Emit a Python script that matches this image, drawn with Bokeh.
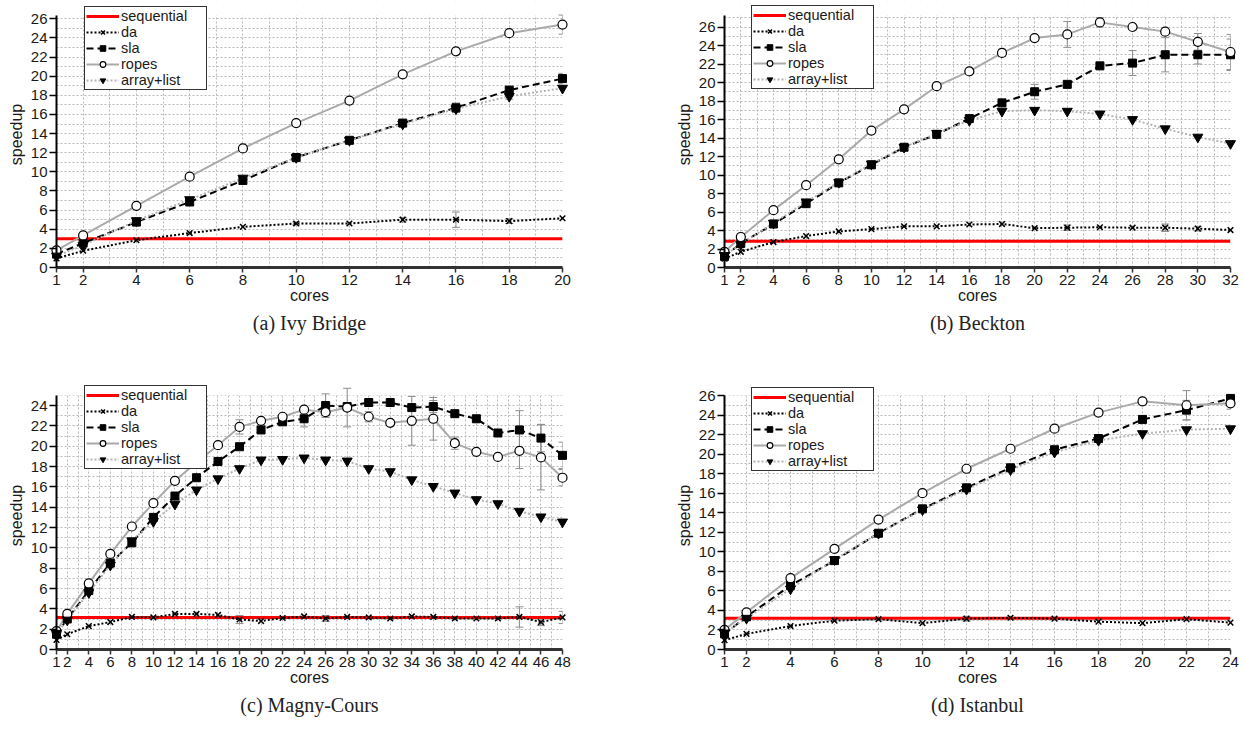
from bokeh.plotting import figure
from bokeh.layouts import column, row
from bokeh.models import (Range1d, FixedTicker, Legend, LegendItem, Whisker,
                          ColumnDataSource, TeeHead, BoxAnnotation)
from bokeh.embed import file_html
from bokeh.resources import INLINE

# ---------------- data ----------------
LABELS = ["sequential", "da", "sla", "ropes", "array+list"]
CAPTIONS = ["(a) Ivy Bridge", "(b) Beckton", "(c) Magny-Cours", "(d) Istanbul"]

# (a) Ivy Bridge
CORES_A = [1, 2, 4, 6, 8, 10, 12, 14, 16, 18, 20]
XTICKS_A = [1, 2, 4, 6, 8, 10, 12, 14, 16, 18, 20]
SEQ_A = 3.0
DA_A = [0.95, 1.75, 2.85, 3.6, 4.25, 4.6, 4.6, 5.0, 5.0, 4.85, 5.15]
SLA_A = [1.4, 2.55, 4.75, 6.85, 9.1, 11.5, 13.3, 15.1, 16.7, 18.55, 19.75]
ROPES_A = [1.8, 3.35, 6.45, 9.5, 12.45, 15.1, 17.45, 20.2, 22.6, 24.5, 25.4]
AL_A = [1.2, 2.3, 4.9, 7.1, 9.35, 11.5, 13.3, 15.0, 16.6, 17.9, 18.75]
DA_A_ERR = [0, 0, 0, 0, 0, 0.15, 0, 0.25, 0.8, 0.25, 0]
SLA_A_ERR = [0, 0, 0, 0, 0, 0, 0, 0, 0.5, 0, 0.55]
ROPES_A_ERR = [0, 0, 0, 0, 0, 0, 0, 0, 0, 0, 1.0]
AL_A_ERR = [0, 0, 0, 0, 0, 0, 0, 0, 0.3, 0.3, 0]

# (b) Beckton
CORES_B = [1, 2, 4, 6, 8, 10, 12, 14, 16, 18, 20, 22, 24, 26, 28, 30, 32]
XTICKS_B = [1, 2, 4, 6, 8, 10, 12, 14, 16, 18, 20, 22, 24, 26, 28, 30, 32]
SEQ_B = 2.85
DA_B = [0.95, 1.7, 2.75, 3.4, 3.9, 4.15, 4.45, 4.45, 4.65, 4.7, 4.25, 4.3, 4.35, 4.3, 4.3, 4.2, 4.05]
SLA_B = [1.2, 2.6, 4.7, 6.9, 9.15, 11.1, 13.0, 14.4, 16.1, 17.8, 19.0, 19.8, 21.8, 22.1, 23.0, 23.0, 23.0]
ROPES_B = [1.7, 3.3, 6.2, 8.9, 11.7, 14.8, 17.1, 19.6, 21.2, 23.2, 24.8, 25.2, 26.5, 26.0, 25.5, 24.4, 23.3]
AL_B = [1.3, 2.5, 4.8, 7.1, 9.2, 11.2, 13.0, 14.5, 15.9, 16.9, 17.0, 16.9, 16.6, 16.0, 15.0, 14.1, 13.4]
DA_B_ERR = [0, 0, 0, 0, 0, 0, 0, 0, 0, 0, 0, 0.3, 0, 0, 0.4, 0.25, 0]
SLA_B_ERR = [0, 0, 0, 0, 0, 0, 0, 0, 0, 0.3, 0.8, 0, 0, 1.35, 1.85, 1.0, 1.7]
ROPES_B_ERR = [0, 0, 0, 0, 0, 0, 0, 0, 0, 0.4, 0, 1.4, 0.5, 0, 0, 0.9, 1.9]
AL_B_ERR = [0] * 17

# (c) Magny-Cours
CORES_C = [1, 2, 4, 6, 8, 10, 12, 14, 16, 18, 20, 22, 24, 26, 28, 30, 32, 34, 36, 38, 40, 42, 44, 46, 48]
XTICKS_C = [1, 2, 4, 6, 8, 10, 12, 14, 16, 18, 20, 22, 24, 26, 28, 30, 32, 34, 36, 38, 40, 42, 44, 46, 48]
SEQ_C = 3.15
DA_C = [0.95, 1.5, 2.3, 2.7, 3.2, 3.15, 3.5, 3.5, 3.4, 2.95, 2.8, 3.1, 3.25, 3.05, 3.2, 3.15, 3.05,
        3.25, 3.2, 3.05, 3.05, 3.05, 3.2, 2.7, 3.15]
SLA_C = [1.5, 3.0, 5.8, 8.5, 10.5, 13.0, 15.1, 16.9, 18.5, 19.95, 21.6, 22.4, 22.7, 24.0, 23.9, 24.3,
         24.3, 23.8, 23.9, 23.2, 22.7, 21.3, 21.6, 20.8, 19.1]
ROPES_C = [1.8, 3.5, 6.5, 9.4, 12.1, 14.4, 16.6, 18.4, 20.1, 21.9, 22.5, 22.9, 23.6, 23.35, 23.8, 22.9,
           22.3, 22.5, 22.7, 20.3, 19.45, 18.95, 19.55, 18.9, 16.9]
AL_C = [1.6, 2.9, 5.6, 8.3, 10.7, 12.6, 14.3, 15.7, 16.8, 17.8, 18.65, 18.7, 18.85, 18.65, 18.55, 17.8,
        17.5, 16.7, 16.05, 15.4, 14.75, 14.35, 13.6, 13.05, 12.55]
DA_C_ERR = [0, 0, 0, 0, 0, 0, 0, 0, 0, 0.4, 0, 0, 0, 0.3, 0, 0, 0, 0, 0, 0, 0, 0, 1.0, 0.35, 0.6]
SLA_C_ERR = [0, 0, 0, 0, 0, 0, 0, 0, 0, 0, 0, 0, 0.8, 1.15, 0, 0, 0, 0, 0.6, 0.3, 0.3, 0, 1.9, 1.35, 1.3]
ROPES_C_ERR = [0, 0, 0, 0, 0, 0, 0, 0, 0, 0.7, 0, 0, 0, 0.5, 1.9, 0.5, 0, 2.4, 2.1, 0.6, 0, 0, 1.75, 3.2, 0.8]
AL_C_ERR = [0] * 25

# (d) Istanbul
CORES_D = [1, 2, 4, 6, 8, 10, 12, 14, 16, 18, 20, 22, 24]
XTICKS_D = [1, 2, 4, 6, 8, 10, 12, 14, 16, 18, 20, 22, 24]
SEQ_D = 3.2
DA_D = [0.95, 1.6, 2.4, 2.95, 3.1, 2.7, 3.15, 3.25, 3.15, 2.85, 2.7, 3.1, 2.75]
SLA_D = [1.6, 3.35, 6.55, 9.1, 11.9, 14.4, 16.55, 18.6, 20.45, 21.6, 23.55, 24.5, 25.7]
ROPES_D = [2.0, 3.8, 7.3, 10.3, 13.3, 16.0, 18.5, 20.55, 22.6, 24.25, 25.4, 25.0, 25.2]
AL_D = [1.7, 3.2, 6.2, 9.2, 11.9, 14.3, 16.4, 18.4, 20.2, 21.4, 22.1, 22.5, 22.6]
DA_D_ERR = [0, 0, 0, 0, 0, 0, 0.25, 0, 0, 0, 0, 0, 0]
SLA_D_ERR = [0, 0, 0, 0, 0, 0, 0, 0, 0, 0, 0, 1.0, 0.3]
ROPES_D_ERR = [0, 0, 0, 0, 0, 0, 0, 0, 0, 0.3, 0.3, 1.5, 0.6]
AL_D_ERR = [0] * 13

FONT = "Liberation Sans"
ERR_COLOR = "#8c8c8c"
PAD = 14  # px of hidden frame above the visible plot area (room for the legend)


def whiskers(p, xs, ys, errs):
    bx, lo, hi = [], [], []
    for x, y, e in zip(xs, ys, errs):
        if e > 0:
            bx.append(x)
            lo.append(y - e)
            hi.append(y + e)
    if not bx:
        return
    src = ColumnDataSource(dict(x=bx, lo=lo, hi=hi))
    w = Whisker(source=src, base="x", lower="lo", upper="hi", line_color=ERR_COLOR, line_width=1,
                upper_head=TeeHead(size=8, line_color=ERR_COLOR, line_width=1),
                lower_head=TeeHead(size=8, line_color=ERR_COLOR, line_width=1))
    p.add_layout(w)


def make_panel(cores, xticks, seq, da, sla, ropes, al, errs, caption, ymax, ytick_max,
               width, height, bl, br, vis_top, vis_h, leg_xy):
    frame_h = vis_h + PAD
    bt = vis_top - PAD
    bb = height - bt - frame_h
    y_end = ymax * frame_h / vis_h
    p = figure(width=width, height=height, min_border_left=bl, min_border_right=br,
               min_border_top=bt, min_border_bottom=bb,
               x_range=Range1d(cores[0], cores[-1]), y_range=Range1d(0, y_end),
               output_backend="svg", toolbar_location=None,
               title=caption, title_location="below")
    p.outline_line_color = None
    p.background_fill_color = "white"
    p.border_fill_color = "white"

    # grids
    p.xgrid.ticker = FixedTicker(ticks=list(range(cores[0], cores[-1] + 1)))
    p.ygrid.ticker = FixedTicker(ticks=list(range(0, int(ymax) + 1)))
    for g in (p.xgrid, p.ygrid):
        g.grid_line_color = "#b8b8b8"
        g.grid_line_dash = "2 2"
        g.grid_line_width = 1
    # white band hiding the spare frame strip above the plotted range
    p.add_layout(BoxAnnotation(bottom=ymax, fill_color="white", fill_alpha=1,
                               line_color=None, level="underlay"))

    # axes
    p.xaxis.ticker = FixedTicker(ticks=xticks)
    p.yaxis.ticker = FixedTicker(ticks=list(range(0, ytick_max + 1, 2)))
    p.yaxis.bounds = (0, ymax)
    p.xaxis.axis_label = "cores"
    p.yaxis.axis_label = "speedup"
    for ax in (p.xaxis, p.yaxis):
        ax.major_label_text_font = FONT
        ax.major_label_text_font_size = "15px"
        ax.major_label_text_color = "#1a1a1a"
        ax.axis_label_text_font = FONT
        ax.axis_label_text_font_size = "16px"
        ax.axis_label_text_font_style = "normal"
        ax.axis_label_text_color = "#1a1a1a"
        ax.minor_tick_line_color = None
        ax.major_tick_in = 0
    p.xaxis.major_tick_out = 5
    p.xaxis.major_tick_line_color = "#333333"
    p.xaxis.major_tick_line_width = 1.5
    p.xaxis.axis_line_color = "#333333"
    p.xaxis.axis_line_width = 3
    p.xaxis.major_label_standoff = 2
    p.xaxis.axis_label_standoff = -1
    p.yaxis.major_tick_out = 7
    p.yaxis.major_tick_line_color = "black"
    p.yaxis.major_tick_line_width = 1.5
    p.yaxis.axis_line_color = "black"
    p.yaxis.axis_line_width = 2
    p.yaxis.major_label_standoff = 2
    p.yaxis.axis_label_standoff = 3

    # caption
    p.title.align = "center"
    p.title.text_font = "Liberation Serif"
    p.title.text_font_size = "20px"
    p.title.text_font_style = "normal"
    p.title.text_color = "#222222"
    p.title.standoff = 6

    # sequential
    r_seq = p.line([cores[0], cores[-1]], [seq, seq], line_color="#ff0000", line_width=3)

    # error bars
    whiskers(p, cores, da, errs[0])
    whiskers(p, cores, sla, errs[1])
    whiskers(p, cores, ropes, errs[2])
    whiskers(p, cores, al, errs[3])

    # da
    l_da = p.line(cores, da, line_color="black", line_width=2, line_dash="2 2")
    m_da = p.scatter(cores, da, marker="x", size=8, line_color="black", line_width=1.5,
                     level="guide")
    # sla
    l_sla = p.line(cores, sla, line_color="black", line_width=2, line_dash="7 4")
    m_sla = p.scatter(cores, sla, marker="square", size=8, fill_color="black", line_color="black",
                      level="guide")
    # ropes
    l_ro = p.line(cores, ropes, line_color="#aaaaaa", line_width=2)
    m_ro = p.scatter(cores, ropes, marker="circle", size=9, fill_color="white",
                     line_color="black", line_width=1.2, level="guide")
    # array+list
    l_al = p.line(cores, al, line_color="#b4b4b4", line_width=2, line_dash="2 2")
    m_al = p.scatter(cores, al, marker="inverted_triangle", size=10, fill_color="black",
                     line_color="black", level="guide")

    items = [LegendItem(label=LABELS[0], renderers=[r_seq]),
             LegendItem(label=LABELS[1], renderers=[l_da, m_da]),
             LegendItem(label=LABELS[2], renderers=[l_sla, m_sla]),
             LegendItem(label=LABELS[3], renderers=[l_ro, m_ro]),
             LegendItem(label=LABELS[4], renderers=[l_al, m_al])]
    leg = Legend(items=items, location=leg_xy, orientation="vertical",
                 border_line_color="#333333", border_line_width=1.5, border_line_alpha=1,
                 background_fill_color="white", background_fill_alpha=1,
                 label_text_font=FONT, label_text_font_size="14.5px",
                 label_text_color="#1a1a1a", label_standoff=2,
                 glyph_width=33, glyph_height=14, label_height=14, label_width=84,
                 spacing=-1, padding=1, margin=0)
    p.add_layout(leg)
    return p


pa = make_panel(CORES_A, XTICKS_A, SEQ_A, DA_A, SLA_A, ROPES_A, AL_A,
                [DA_A_ERR, SLA_A_ERR, ROPES_A_ERR, AL_A_ERR], CAPTIONS[0], 26.35, 26,
                630, 380, 56, 68, 15, 252, (28, 177))
pb = make_panel(CORES_B, XTICKS_B, SEQ_B, DA_B, SLA_B, ROPES_B, AL_B,
                [DA_B_ERR, SLA_B_ERR, ROPES_B_ERR, AL_B_ERR], CAPTIONS[1], 27.25, 26,
                612, 380, 94, 12, 15, 253, (27, 178))
pc = make_panel(CORES_C, XTICKS_C, SEQ_C, DA_C, SLA_C, ROPES_C, AL_C,
                [DA_C_ERR, SLA_C_ERR, ROPES_C_ERR, AL_C_ERR], CAPTIONS[2], 25, 24,
                630, 352, 56, 68, 15, 256, (28, 180))
pd = make_panel(CORES_D, XTICKS_D, SEQ_D, DA_D, SLA_D, ROPES_D, AL_D,
                [DA_D_ERR, SLA_D_ERR, ROPES_D_ERR, AL_D_ERR], CAPTIONS[3], 26, 26,
                612, 352, 94, 12, 15, 254, (27, 178))

layout = column(row(pa, pb), row(pc, pd))
open("out.html", "w").write(file_html(layout, INLINE))
